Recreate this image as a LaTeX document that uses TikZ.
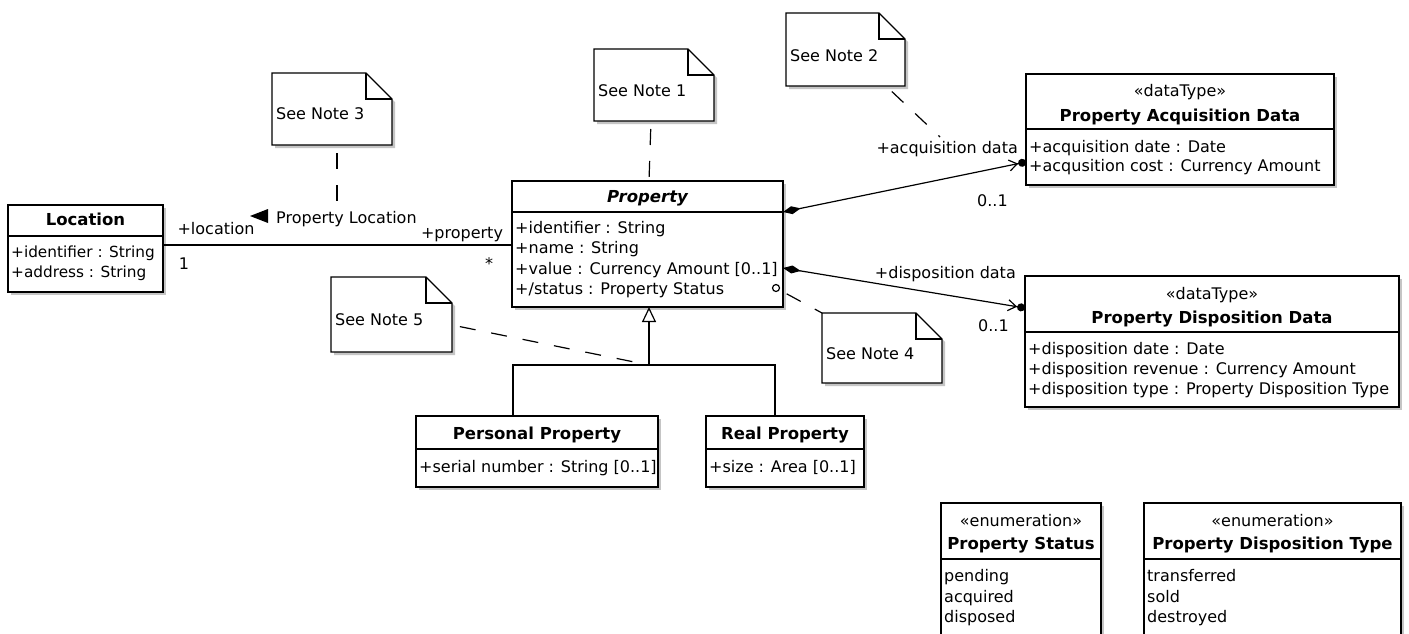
\documentclass[tikz,border=0pt]{standalone}
\usepackage{fontspec}
\setmainfont{DejaVu Sans}
\usetikzlibrary{arrows.meta,shadows}
\tikzset{
  shd/.style={drop shadow={shadow xshift=3pt,shadow yshift=-3pt,fill=black!45,opacity=0.5}},
  cls/.style={draw,fill=white,line width=1.2pt,inner sep=0pt,outer sep=0pt,anchor=north west,shd},
  notebox/.style={inner sep=0pt,outer sep=0pt,anchor=north west},
  attr/.style={inner sep=0pt,anchor=base west,font=\fontsize{16}{20}\selectfont},
  ttl/.style={inner sep=0pt,anchor=base,font=\fontsize{16.5}{20}\selectfont\bfseries},
  ster/.style={inner sep=0pt,anchor=base,font=\fontsize{16}{20}\selectfont},
  lbl/.style={inner sep=0pt,font=\fontsize{16}{20}\selectfont},
  ln/.style={line width=1.2pt},
  compo/.style={ln,{Diamond[length=18pt,width=8pt]}-{Straight Barb[length=8pt,width=11pt] Circle[length=8pt]}},
  anchorline/.style={line width=1.2pt,dash pattern=on 16pt off 16pt,dash phase=24pt},
}
\newcommand\umlnote[1]{%
  \draw[ln,fill=white,shd] (#1.north west) -- ([xshift=-26pt]#1.north east) -- ([yshift=-26pt]#1.north east) -- (#1.south east) -- (#1.south west) -- cycle;
  \draw[ln] ([xshift=-26pt]#1.north east) |- ([yshift=-26pt]#1.north east);}
\begin{document}
\begin{tikzpicture}[x=1pt,y=-1pt]
\useasboundingbox (0,0) rectangle (1409,633);
\fill[white] (0,0) rectangle (1409,633);
\clip (0,0) rectangle (1409,633);

% ---------- notes ----------
\node[notebox,minimum width=120pt,minimum height=72pt] (n1) at (594,49) {};
\umlnote{n1}
\node[lbl,anchor=base west] (n1t) at (598,96) {See Note 1};
\node[notebox,minimum width=119pt,minimum height=73pt] (n2) at (786,13) {};
\umlnote{n2}
\node[lbl,anchor=base west] (n2t) at (790,61) {See Note 2};
\node[notebox,minimum width=120pt,minimum height=72pt] (n3) at (272,73) {};
\umlnote{n3}
\node[lbl,anchor=base west] (n3t) at (276,119) {See Note 3};
\node[notebox,minimum width=120pt,minimum height=70pt] (n4) at (822,313) {};
\umlnote{n4}
\node[lbl,anchor=base west] (n4t) at (826,359) {See Note 4};
\node[notebox,minimum width=121pt,minimum height=75pt] (n5) at (331,277) {};
\umlnote{n5}
\node[lbl,anchor=base west] (n5t) at (335,325) {See Note 5};

% ---------- Location ----------
\node[cls,minimum width=155pt,minimum height=87pt] (loc) at (8,205) {};
\draw[ln] (loc.west |- 0,236) -- (loc.east |- 0,236);
\node[ttl] (locT) at (85.5,225) {Location};
\node[attr,font=\fontsize{15.3}{20}\selectfont] (locA1) at (11,257) {+identifier : String};
\node[attr,font=\fontsize{15.3}{20}\selectfont] (locA2) at (11,277) {+address : String};

% ---------- Property ----------
\node[cls,minimum width=271pt,minimum height=126pt] (prop) at (512,181) {};
\draw[ln] (prop.west |- 0,212) -- (prop.east |- 0,212);
\node[ttl,font=\fontsize{16.5}{20}\selectfont\bfseries\itshape] (propT) at (647.5,202) {Property};
\node[attr] (propA1) at (515,233) {+identifier : String};
\node[attr] (propA2) at (515,253) {+name : String};
\node[attr] (propA3) at (515,274) {+value : Currency Amount [0..1]};
\node[attr] (propA4) at (515,294) {+/status : Property Status};
\node[circle,draw,fill=white,line width=1.2pt,inner sep=0pt,minimum size=7pt] (stc) at (776,288) {};

% ---------- Property Acquisition Data ----------
\node[cls,minimum width=308pt,minimum height=111pt] (acq) at (1026,74) {};
\draw[ln] (acq.west |- 0,129) -- (acq.east |- 0,129);
\node[ster] (acqS) at (1180,96) {«dataType»};
\node[ttl] (acqT) at (1180,121) {Property Acquisition Data};
\node[attr] (acqA1) at (1029,152) {+acquisition date : Date};
\node[attr] (acqA2) at (1029,171) {+acqusition cost : Currency Amount};

% ---------- Property Disposition Data ----------
\node[cls,minimum width=374pt,minimum height=131pt] (disp) at (1025,276) {};
\draw[ln] (disp.west |- 0,332) -- (disp.east |- 0,332);
\node[ster] (dispS) at (1212,299) {«dataType»};
\node[ttl] (dispT) at (1212,323) {Property Disposition Data};
\node[attr] (dispA1) at (1028,354) {+disposition date : Date};
\node[attr] (dispA2) at (1028,374) {+disposition revenue : Currency Amount};
\node[attr] (dispA3) at (1028,394) {+disposition type : Property Disposition Type};

% ---------- Personal / Real Property ----------
\node[cls,minimum width=242pt,minimum height=71pt] (pers) at (416,416) {};
\draw[ln] (pers.west |- 0,449) -- (pers.east |- 0,449);
\node[ttl] (persT) at (537,439) {Personal Property};
\node[attr] (persA1) at (419,472) {+serial number : String [0..1]};

\node[cls,minimum width=158pt,minimum height=71pt] (real) at (706,416) {};
\draw[ln] (real.west |- 0,449) -- (real.east |- 0,449);
\node[ttl] (realT) at (785,439) {Real Property};
\node[attr] (realA1) at (709,472) {+size : Area [0..1]};

% ---------- Enumerations ----------
\node[cls,minimum width=160pt,minimum height=200pt] (ps) at (941,503) {};
\draw[ln] (ps.west |- 0,559) -- (ps.east |- 0,559);
\node[ster] (psS) at (1021,526) {«enumeration»};
\node[ttl] (psT) at (1021,549) {Property Status};
\node[attr] (psL1) at (944,581) {pending};
\node[attr] (psL2) at (944,602) {acquired};
\node[attr] (psL3) at (944,622) {disposed};

\node[cls,minimum width=257pt,minimum height=200pt] (pdt) at (1144,503) {};
\draw[ln] (pdt.west |- 0,559) -- (pdt.east |- 0,559);
\node[ster] (pdtS) at (1272.5,526) {«enumeration»};
\node[ttl] (pdtT) at (1272.5,549) {Property Disposition Type};
\node[attr] (pdtL1) at (1147,581) {transferred};
\node[attr] (pdtL2) at (1147,602) {sold};
\node[attr] (pdtL3) at (1147,622) {destroyed};

% ---------- Association Location - Property ----------
\draw[ln] (loc.east |- 0,245) -- (prop.west |- 0,245);
\node[lbl,anchor=base] (lLoc) at (216,234) {+location};
\fill (250,216) -- (268,209) -- (268,223) -- cycle;
\node[lbl,anchor=base west] (lPL) at (276,223) {Property Location};
\node[lbl,anchor=base] (lProp) at (462,238) {+property};
\node[lbl,anchor=base] (lOne) at (184,269) {1};
\node[lbl,anchor=base] (lStar) at (489,269) {*};

% ---------- Compositions ----------
\draw[compo] (prop.east |- 0,212) -- (acq.west |- 0,162);
\node[lbl,anchor=base east] (lAcq) at (1018,153) {+acquisition data};
\node[lbl,anchor=base west] (mAcq) at (977,206) {0..1};

\draw[compo] (prop.east |- 0,268) -- (disp.west |- 0,308);
\node[lbl,anchor=base east] (lDisp) at (1016,278) {+disposition data};
\node[lbl,anchor=base west] (mDisp) at (978,331) {0..1};

% ---------- Generalization ----------
\coordinate (gj) at (649,365);
\coordinate (gl) at (513,365);
\coordinate (gr) at (775,365);
\draw[ln] (pers.north -| gl) -- (gl) -- (gr) -- (real.north -| gr);
\draw[ln,-{Triangle[length=15pt,width=14pt,fill=white]}] (gj) -- (prop.south -| gj);

% ---------- Note anchors ----------
\coordinate (n2a) at (940,137);
\coordinate (n3a) at (337,208);
\draw[anchorline] (n1.south -| 651,0) -- (prop.north -| 649,0);
\draw[anchorline] (n2.south -| 886,0) -- (n2a);
\draw[anchorline] (n3.south -| n3a) -- (n3a);
\draw[anchorline] (stc) -- (n4.north west);
\draw[anchorline] (n5.east |- 0,325) -- (gj);
\end{tikzpicture}
\end{document}
